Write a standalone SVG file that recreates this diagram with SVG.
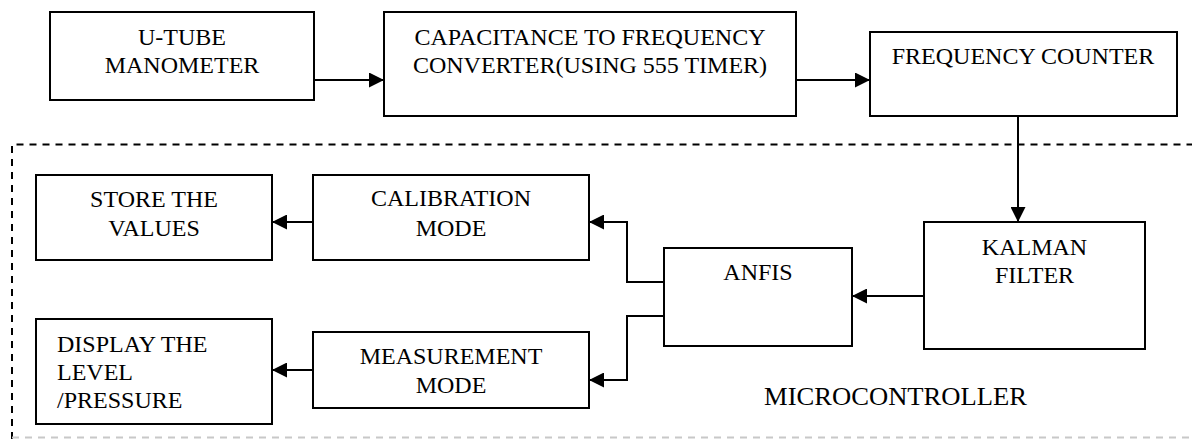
<svg xmlns="http://www.w3.org/2000/svg" width="1192" height="439" viewBox="0 0 1192 439">
  <defs>
    <marker id="arrow" markerUnits="userSpaceOnUse" markerWidth="15" markerHeight="15" refX="15" refY="7.5" orient="auto">
      <path d="M0,0 L15,7.5 L0,15 Z" fill="#000"/>
    </marker>
    <style>
      .box { fill: #fff; stroke: #000; stroke-width: 2; }
      .lbl { font-family: "Liberation Serif", "Times New Roman", serif; font-size: 24px; fill: #000; }
      .mid { text-anchor: middle; }
      .wire { fill: none; stroke: #000; stroke-width: 2; }
      .dash { fill: none; stroke: #000; stroke-width: 2; stroke-dasharray: 7 6; }
      .dash-light { fill: none; stroke: #c8c8c8; stroke-width: 2; stroke-dasharray: 7 6; }
    </style>
  </defs>

  <rect width="1192" height="439" fill="#fff"/>

  <!-- microcontroller boundary -->
  <g id="microcontroller">
    <path class="dash" d="M12,439 V144.5 H1192"/>
    <path class="dash-light" d="M12,437.5 H1192"/>
    <text class="lbl" x="764" y="405" style="font-size:25px" textLength="263" lengthAdjust="spacingAndGlyphs">MICROCONTROLLER</text>
  </g>

  <g id="connectors">
    <path class="wire" d="M314,80 H384" marker-end="url(#arrow)"/>
    <path class="wire" d="M796,80 H870" marker-end="url(#arrow)"/>
    <path class="wire" d="M1018,116 V222" marker-end="url(#arrow)"/>
    <path class="wire" d="M924,296 H852" marker-end="url(#arrow)"/>
    <path class="wire" d="M664,282 H627 V222 H589" marker-end="url(#arrow)"/>
    <path class="wire" d="M664,316 H627 V380 H589" marker-end="url(#arrow)"/>
    <path class="wire" d="M313,222 H272" marker-end="url(#arrow)"/>
    <path class="wire" d="M313,370 H272" marker-end="url(#arrow)"/>
  </g>

  <g id="u-tube">
    <rect class="box" x="50" y="12" width="264" height="88"/>
    <text class="lbl mid" x="182" y="45">U-TUBE</text>
    <text class="lbl mid" x="182" y="73">MANOMETER</text>
  </g>

  <g id="cap-to-freq">
    <rect class="box" x="384" y="12" width="412" height="104"/>
    <text class="lbl mid" x="590" y="45">CAPACITANCE TO FREQUENCY</text>
    <text class="lbl mid" x="590" y="73">CONVERTER(USING 555 TIMER)</text>
  </g>

  <g id="freq-counter">
    <rect class="box" x="870" y="32" width="307" height="84"/>
    <text class="lbl mid" x="1023" y="64">FREQUENCY COUNTER</text>
  </g>

  <g id="kalman">
    <rect class="box" x="924" y="222" width="221" height="127"/>
    <text class="lbl mid" x="1034.5" y="255">KALMAN</text>
    <text class="lbl mid" x="1034.5" y="283">FILTER</text>
  </g>

  <g id="anfis">
    <rect class="box" x="664" y="248" width="188" height="98"/>
    <text class="lbl mid" x="758" y="280">ANFIS</text>
  </g>

  <g id="calibration">
    <rect class="box" x="313" y="175" width="276" height="85"/>
    <text class="lbl mid" x="451" y="206">CALIBRATION</text>
    <text class="lbl mid" x="451" y="236">MODE</text>
  </g>

  <g id="measurement">
    <rect class="box" x="313" y="332" width="276" height="76"/>
    <text class="lbl mid" x="451" y="364">MEASUREMENT</text>
    <text class="lbl mid" x="451" y="393">MODE</text>
  </g>

  <g id="store">
    <rect class="box" x="36" y="175" width="236" height="85"/>
    <text class="lbl mid" x="154" y="207">STORE THE</text>
    <text class="lbl mid" x="154" y="236">VALUES</text>
  </g>

  <g id="display">
    <rect class="box" x="36" y="319" width="236" height="105"/>
    <text class="lbl" x="57" y="352">DISPLAY THE</text>
    <text class="lbl" x="57" y="380">LEVEL</text>
    <text class="lbl" x="57" y="408">/PRESSURE</text>
  </g>
</svg>
